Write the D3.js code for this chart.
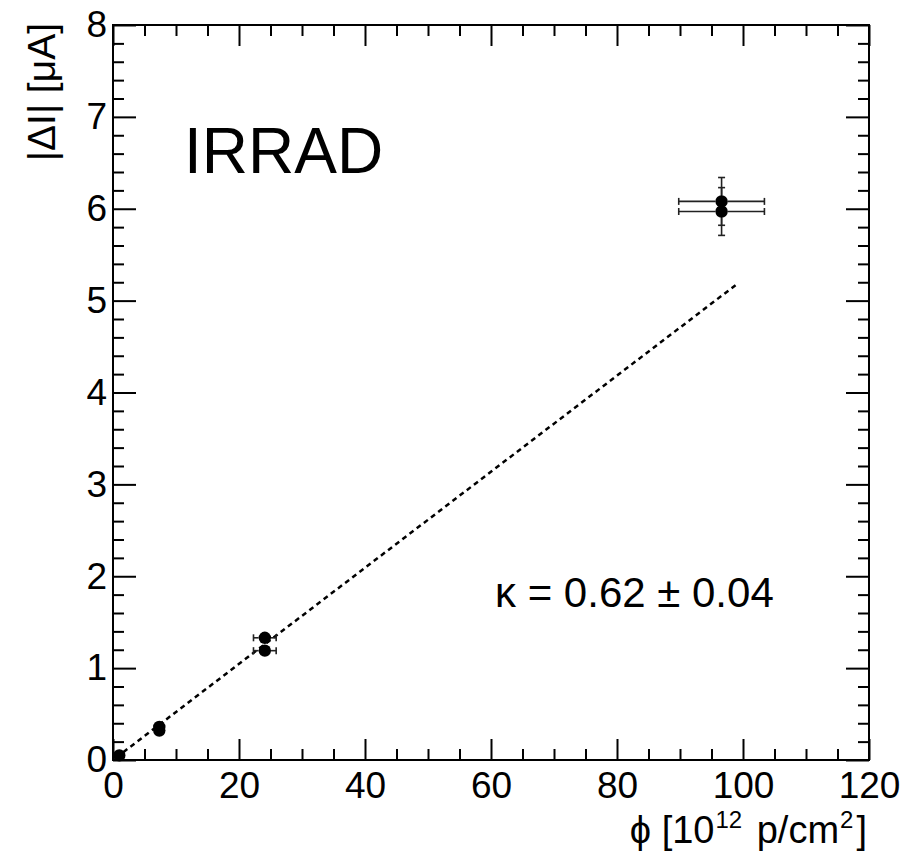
<!DOCTYPE html>
<html>
<head>
<meta charset="utf-8">
<script src="https://d3js.org/d3.v7.min.js"></script>
<style>
  body { margin: 0; background: #fff; }
  text { font-family: "Liberation Sans", Arial, sans-serif; fill: #000; }
</style>
</head>
<body>
<div id="chart"></div>
<script>
// values
var fluence    = [1.0, 7.35, 7.35, 24.1, 24.1, 96.6, 96.6];   // 10^12 p/cm2
var fluenceErr = [0.3, 0.6, 0.6, 1.8, 1.8, 6.8, 6.8];
var current    = [0.05, 0.32, 0.36, 1.33, 1.19, 6.08, 5.97];  // uA
var currentErr = [0.01, 0.02, 0.02, 0.04, 0.04, 0.26, 0.26];

var fitSlope = 0.0523;
var fitRange = [0.5, 99.3];

var xMajor = [0, 20, 40, 60, 80, 100, 120];
var yMajor = [0, 1, 2, 3, 4, 5, 6, 7, 8];

// set the dimensions and margins of the graph
var margin = {top: 25, right: 39, bottom: 98, left: 113},
  width = 908 - margin.left - margin.right,
  height = 858 - margin.top - margin.bottom;

var svg = d3.select("#chart")
  .append("svg")
    .attr("width", 908)
    .attr("height", 858)
  .append("g")
    .attr("transform", "translate(" + margin.left + "," + margin.top + ")");

var x = d3.scaleLinear().domain([0, 120]).range([0, width]);
var y = d3.scaleLinear().domain([0, 8]).range([height, 0]);

// minor ticks: 4 between x majors, 5 between y majors
var xMinor = d3.range(0, 121, 5).filter(function(v) { return v % 20 != 0; });
var yMinor = d3.range(0, 41).map(function(i) { return i / 5; }).filter(function(v, i) { return i % 5 != 0; });

function styleAxis(g) {
  g.select(".domain").remove();
  g.selectAll("line").attr("stroke", "#000").attr("stroke-width", 2);
  g.selectAll("text").style("font-size", "37px").attr("fill", "#000");
}

// bottom
svg.append("g")
  .attr("transform", "translate(0," + height + ")")
  .call(d3.axisBottom(x).tickValues(xMajor).tickSize(-21).tickPadding(12).tickFormat(d3.format("d")))
  .call(styleAxis);
svg.append("g")
  .attr("transform", "translate(0," + height + ")")
  .call(d3.axisBottom(x).tickValues(xMinor).tickSize(-11).tickFormat(""))
  .call(styleAxis);
// top
svg.append("g")
  .call(d3.axisTop(x).tickValues(xMajor).tickSize(-21).tickFormat(""))
  .call(styleAxis);
svg.append("g")
  .call(d3.axisTop(x).tickValues(xMinor).tickSize(-11).tickFormat(""))
  .call(styleAxis);
// left
svg.append("g")
  .call(d3.axisLeft(y).tickValues(yMajor).tickSize(-23).tickPadding(6).tickFormat(d3.format("d")))
  .call(styleAxis);
svg.append("g")
  .call(d3.axisLeft(y).tickValues(yMinor).tickSize(-11).tickFormat(""))
  .call(styleAxis);
// right
svg.append("g")
  .attr("transform", "translate(" + width + ",0)")
  .call(d3.axisRight(y).tickValues(yMajor).tickSize(-23).tickFormat(""))
  .call(styleAxis);
svg.append("g")
  .attr("transform", "translate(" + width + ",0)")
  .call(d3.axisRight(y).tickValues(yMinor).tickSize(-11).tickFormat(""))
  .call(styleAxis);

// frame
svg.append("rect")
  .attr("width", width)
  .attr("height", height)
  .attr("fill", "none")
  .attr("stroke", "#000")
  .attr("stroke-width", 2);

// fit line
svg.append("line")
  .attr("x1", x(fitRange[0])).attr("y1", y(fitSlope * fitRange[0]))
  .attr("x2", x(fitRange[1])).attr("y2", y(fitSlope * fitRange[1]))
  .attr("stroke", "#000")
  .attr("stroke-width", 2.5)
  .attr("stroke-dasharray", "5,4");

// points + error bars
var r = 6.2, cap = 3.5;
var pts = fluence.map(function(f, i) {
  return {x: f, ex: fluenceErr[i], y: current[i], ey: currentErr[i]};
});
var eb = svg.append("g").attr("stroke", "#222").attr("stroke-width", 1.6);
pts.forEach(function(d) {
  var cx = x(d.x), cy = y(d.y);
  var dx = x(d.x + d.ex) - cx, dy = cy - y(d.y + d.ey);
  if (dx > r) {
    eb.append("line").attr("x1", cx - dx).attr("x2", cx - r).attr("y1", cy).attr("y2", cy);
    eb.append("line").attr("x1", cx + r).attr("x2", cx + dx).attr("y1", cy).attr("y2", cy);
    eb.append("line").attr("x1", cx - dx).attr("x2", cx - dx).attr("y1", cy - cap).attr("y2", cy + cap);
    eb.append("line").attr("x1", cx + dx).attr("x2", cx + dx).attr("y1", cy - cap).attr("y2", cy + cap);
  }
  if (dy > r) {
    eb.append("line").attr("x1", cx).attr("x2", cx).attr("y1", cy - dy).attr("y2", cy - r);
    eb.append("line").attr("x1", cx).attr("x2", cx).attr("y1", cy + r).attr("y2", cy + dy);
    eb.append("line").attr("x1", cx - cap).attr("x2", cx + cap).attr("y1", cy - dy).attr("y2", cy - dy);
    eb.append("line").attr("x1", cx - cap).attr("x2", cx + cap).attr("y1", cy + dy).attr("y2", cy + dy);
  }
});
svg.selectAll(".pt")
  .data(pts)
  .join("circle")
  .attr("class", "pt")
  .attr("cx", function(d) { return x(d.x); })
  .attr("cy", function(d) { return y(d.y); })
  .attr("r", r)
  .attr("fill", "#000");

// labels
svg.append("text")
  .attr("x", 71).attr("y", 148)
  .style("font-size", "64px")
  .text("IRRAD");

svg.append("text")
  .attr("x", 382).attr("y", 582)
  .style("font-size", "42px")
  .text("κ = 0.62 ± 0.04");

svg.append("text")
  .attr("transform", "translate(-58,-2) rotate(-90)")
  .attr("text-anchor", "end")
  .style("font-size", "39px")
  .text("|ΔI| [μA]");

var xt = svg.append("text")
  .attr("x", width - 2).attr("y", height + 83)
  .attr("text-anchor", "end")
  .style("font-size", "38px");
xt.append("tspan").text("ϕ [10");
xt.append("tspan").attr("dx", 1).attr("dy", -15).style("font-size", "24px").text("12");
xt.append("tspan").attr("dx", 4).attr("dy", 15).text(" p/cm");
xt.append("tspan").attr("dx", 1).attr("dy", -15).style("font-size", "24px").text("2");
xt.append("tspan").attr("dx", 3).attr("dy", 15).text("]");
</script>
</body>
</html>
